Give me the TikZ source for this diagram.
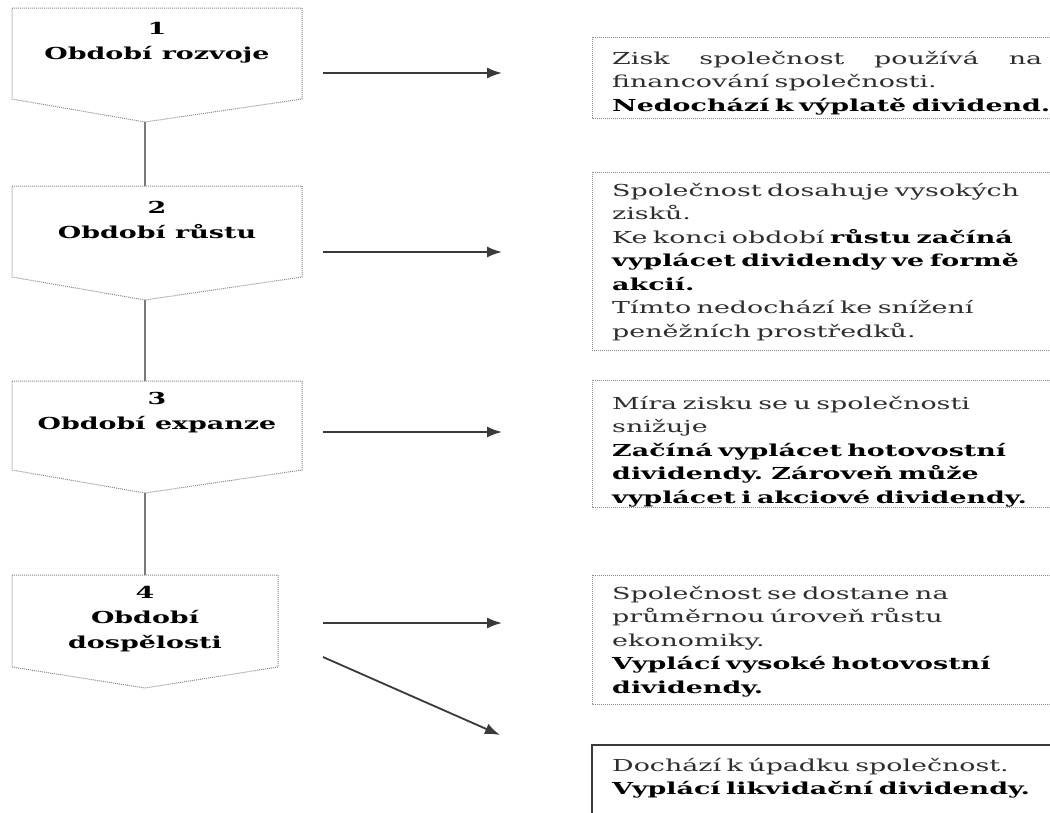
\documentclass[tikz,border=0pt]{standalone}
\usepackage{fontspec}
\setmainfont{DejaVu Serif}[FakeStretch=1.63]
\usetikzlibrary{arrows.meta}
\definecolor{txtgray}{HTML}{2E2E2E}
\definecolor{edgegray}{HTML}{8A8A8A}
\definecolor{linkgray}{HTML}{7A7A7A}
\definecolor{arrgray}{HTML}{3A3A3A}
\begin{document}
\begin{tikzpicture}[x=1pt,y=-1pt,
  phasebox/.style={draw=edgegray, densely dotted, line width=1},
  phasetext/.style={anchor=north, inner sep=0, align=center, font=\fontsize{16.5}{25}\selectfont\bfseries, text=black},
  infobox/.style={draw=edgegray, densely dotted, line width=1},
  lastbox/.style={draw=arrgray, line width=1.4},
  infotext/.style={anchor=north west, inner sep=0, align=left, text width=445pt, font=\fontsize{16.5}{23.5}\selectfont, text=txtgray},
  link/.style={draw=linkgray, line width=2},
  arrowline/.style={draw=arrgray, line width=1.8, -{Latex[length=15,width=11]}}
]
\useasboundingbox (0,0) rectangle (1050,812);
\fill[white] (0,0) rectangle (1050,812);
\clip (0,0) rectangle (1050,812);

% left phase boxes
\draw[phasebox] (12,8) -- (302,8) -- (302,99) -- (145,122) -- (12,99) -- cycle;
\draw[phasebox] (12,186) -- (302,186) -- (302,277) -- (145,300) -- (12,277) -- cycle;
\draw[phasebox] (12,381) -- (302,381) -- (302,470) -- (145,493) -- (12,470) -- cycle;
\draw[phasebox] (12,575) -- (278,575) -- (278,667) -- (145,688) -- (12,667) -- cycle;
\coordinate (b1tip) at (145,122);
\coordinate (b2top) at (145,186);
\coordinate (b2tip) at (145,300);
\coordinate (b3top) at (145,381);
\coordinate (b3tip) at (145,493);
\coordinate (b4top) at (145,575);

\node[phasetext] (p1) at (157,16.5) {\strut 1\\Období rozvoje};
\node[phasetext] (p2) at (157,195.5) {\strut 2\\Období růstu};
\node[phasetext] (p3) at (157,386.5) {\strut 3\\Období expanze};
\node[phasetext] (p4) at (145,580.5) {\strut 4\\Období\\dospělosti};

\draw[link] (b1tip) -- (b2top);
\draw[link] (b2tip) -- (b3top);
\draw[link] (b3tip) -- (b4top);

% arrows
\coordinate (a1s) at (323,73);  \coordinate (a1e) at (502,73);
\coordinate (a2s) at (323,252); \coordinate (a2e) at (502,252);
\coordinate (a3s) at (323,432); \coordinate (a3e) at (502,432);
\coordinate (a4s) at (323,623); \coordinate (a4e) at (502,623);
\coordinate (a5s) at (323,657); \coordinate (a5e) at (500,735);
\draw[arrowline] (a1s) -- (a1e);
\draw[arrowline] (a2s) -- (a2e);
\draw[arrowline] (a3s) -- (a3e);
\draw[arrowline] (a4s) -- (a4e);
\draw[arrowline] (a5s) -- (a5e);

% right boxes
\draw[infobox] (592,37) rectangle (1062,118);
\draw[infobox] (592,172) rectangle (1062,350);
\draw[infobox] (592,380) rectangle (1062,507);
\draw[infobox] (592,575) rectangle (1062,704);
\draw[lastbox] (592,745) rectangle (1062,830);

\node[infotext] (ia) at (612,47.5) {\strut\hbox to 430pt{Zisk\hfill společnost\hfill používá\hfill na}\\financování společnosti.\\\textbf{\color{black}Nedochází k výplatě dividend.}};
\node[infotext] (ib) at (612,179.5) {\strut Společnost dosahuje vysokých\\zisků.\\Ke konci období \textbf{\color{black}růstu začíná}\\\textbf{\color{black}vyplácet dividendy ve formě}\\\textbf{\color{black}akcií.}\\Tímto nedochází ke snížení\\peněžních prostředků.};
\node[infotext] (ic) at (612,392.5) {\strut Míra zisku se u společnosti\\snižuje\\\textbf{\color{black}Začíná vyplácet hotovostní}\\\textbf{\color{black}dividendy. Zároveň může}\\\textbf{\color{black}vyplácet i akciové dividendy.}};
\node[infotext] (id) at (612,582.5) {\strut Společnost se dostane na\\průměrnou úroveň růstu\\ekonomiky.\\\textbf{\color{black}Vyplácí vysoké hotovostní}\\\textbf{\color{black}dividendy.}};
\node[infotext] (ie) at (612,754.5) {\strut Dochází k úpadku společnost.\\\textbf{\color{black}Vyplácí likvidační dividendy.}};
\end{tikzpicture}
\end{document}
